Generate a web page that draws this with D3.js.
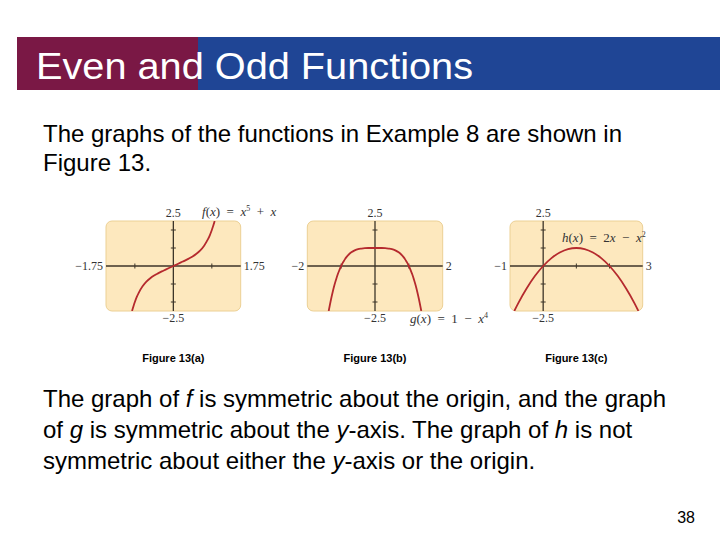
<!DOCTYPE html>
<html><head><meta charset="utf-8">
<script src="https://cdn.jsdelivr.net/npm/d3@7"></script>
<style>body{margin:0;background:#fff}svg{display:block}</style>
</head><body>
<svg id="c" width="720" height="540"></svg>
<script>
// ---- data ----
const fX = [-1.074,-1.03,-1.0,-0.95,-0.9,-0.8,-0.7,-0.6,-0.5,-0.4,-0.3,-0.2,-0.1,0,0.1,0.2,0.3,0.4,0.5,0.6,0.7,0.8,0.9,0.95,1.0,1.03,1.074];
const fY = [-2.50,-2.19,-2.0,-1.72,-1.49,-1.13,-0.87,-0.68,-0.53,-0.41,-0.30,-0.20,-0.10,0,0.10,0.20,0.30,0.41,0.53,0.68,0.87,1.13,1.49,1.72,2.0,2.19,2.50];
const gX = [-1.368,-1.3,-1.25,-1.2,-1.15,-1.1,-1.05,-1.0,-0.95,-0.9,-0.85,-0.8,-0.7,-0.6,-0.5,-0.4,-0.3,-0.2,-0.1,0,0.1,0.2,0.3,0.4,0.5,0.6,0.7,0.8,0.85,0.9,0.95,1.0,1.05,1.1,1.15,1.2,1.25,1.3,1.368];
const gY = [-2.50,-1.86,-1.44,-1.07,-0.75,-0.46,-0.22,0,0.19,0.34,0.48,0.59,0.76,0.87,0.94,0.97,0.99,1.0,1.0,1.0,1.0,1.0,0.99,0.97,0.94,0.87,0.76,0.59,0.48,0.34,0.19,0,-0.22,-0.46,-0.75,-1.07,-1.44,-1.86,-2.50];
const hX = [-0.87,-0.75,-0.5,-0.25,0,0.25,0.5,0.75,1,1.25,1.5,1.75,2,2.25,2.5,2.75,2.87];
const hY = [-2.50,-2.06,-1.25,-0.56,0,0.44,0.75,0.94,1,0.94,0.75,0.44,0,-0.56,-1.25,-2.06,-2.50];

const panels = [
  {id:"a", x:fX, y:fY, xDom:[-1.75,1.75], yDom:[-2.5,2.5], xTicks:[-1,1], yTicks:[-2,-1,1,2],
   xLabels:["\u22121.75","1.75"], yLabels:["2.5","\u22122.5"], caption:"Figure 13(a)"},
  {id:"b", x:gX, y:gY, xDom:[-2,2], yDom:[-2.5,2.5], xTicks:[-1,1], yTicks:[-2,-1,1,2],
   xLabels:["\u22122","2"], yLabels:["2.5","\u22122.5"], caption:"Figure 13(b)"},
  {id:"c", x:hX, y:hY, xDom:[-1,3], yDom:[-2.5,2.5], xTicks:[1,2], yTicks:[-2,-1,1,2],
   xLabels:["\u22121","3"], yLabels:["2.5","\u22122.5"], caption:"Figure 13(c)"}
];
const boxes = [[106,240.7],[307.3,442.7],[510,642.7]];
const boxTop = 221, boxBot = 311;

const svg = d3.select("#c");
// title bar
svg.append("rect").attr("x",198).attr("y",37).attr("width",522).attr("height",53).attr("fill","#1f4595");
svg.append("rect").attr("x",17).attr("y",37).attr("width",181).attr("height",53).attr("fill","#7a1845");
svg.append("text").attr("x",36).attr("y",79).attr("fill","#fff")
  .attr("font-family","Liberation Sans, Arial, sans-serif").attr("font-size",37)
  .attr("textLength",437).attr("lengthAdjust","spacingAndGlyphs").text("Even and Odd Functions");

const bodyFont = "Liberation Sans, Arial, sans-serif";
function para(lines, y0, dy){
  lines.forEach((segs,i)=>{
    const t = svg.append("text").attr("x",43).attr("y",y0+i*dy).attr("font-family",bodyFont).attr("font-size",24).attr("fill","#000");
    segs.forEach(s=>{ const ts=t.append("tspan").text(s[0]); if(s[1]) ts.attr("font-style","italic"); });
  });
}
para([[["The graphs of the functions in Example 8 are shown in"]],[["Figure 13."]]],141.5,29.5);
para([
  [["The graph of "],["f",1],[" is symmetric about the origin, and the graph"]],
  [["of "],["g",1],[" is symmetric about the "],["y",1],["-axis. The graph of "],["h",1],[" is not"]],
  [["symmetric about either the "],["y",1],["-axis or the origin."]]
],406.5,31);

svg.append("text").attr("x",695).attr("y",523).attr("text-anchor","end").attr("font-family",bodyFont).attr("font-size",16).text("38");

const serif = "Liberation Serif, Times New Roman, serif";
const axisCol = "#3d3529";
panels.forEach((p,i)=>{
  const [x0,x1] = boxes[i];
  const xs = d3.scaleLinear().domain(p.xDom).range([x0,x1]);
  const ys = d3.scaleLinear().domain(p.yDom).range([boxBot,boxTop]);
  const g = svg.append("g");
  g.append("rect").attr("x",x0).attr("y",boxTop).attr("width",x1-x0).attr("height",boxBot-boxTop)
    .attr("rx",6).attr("fill","#fde8be").attr("stroke","#ecd094").attr("stroke-width",1);
  const cx = xs(0), cy = ys(0);
  g.append("line").attr("x1",x0).attr("x2",x1).attr("y1",cy).attr("y2",cy).attr("stroke",axisCol).attr("stroke-width",1.3);
  g.append("line").attr("x1",cx).attr("x2",cx).attr("y1",boxTop).attr("y2",boxBot).attr("stroke",axisCol).attr("stroke-width",1.3);
  g.selectAll(".xt").data(p.xTicks).enter().append("line")
    .attr("x1",d=>xs(d)).attr("x2",d=>xs(d)).attr("y1",cy-2.5).attr("y2",cy+2.5).attr("stroke",axisCol).attr("stroke-width",1);
  g.selectAll(".yt").data(p.yTicks).enter().append("line")
    .attr("y1",d=>ys(d)).attr("y2",d=>ys(d)).attr("x1",cx-2.5).attr("x2",cx+2.5).attr("stroke",axisCol).attr("stroke-width",1);
  svg.append("clipPath").attr("id","clip"+p.id).append("rect").attr("x",x0).attr("y",boxTop).attr("width",x1-x0).attr("height",boxBot-boxTop);
  const pts = p.x.map((v,k)=>[v,p.y[k]]);
  g.append("path").datum(pts).attr("clip-path","url(#clip"+p.id+")")
    .attr("d",d3.line().x(d=>xs(d[0])).y(d=>ys(d[1])).curve(d3.curveCatmullRom))
    .attr("fill","none").attr("stroke","#b52a2e").attr("stroke-width",1.8);
  const lab = (x,y,txt,anchor)=>g.append("text").attr("x",x).attr("y",y).attr("text-anchor",anchor)
      .attr("font-family",serif).attr("font-size",12).attr("fill","#333").text(txt);
  lab(cx,217,p.yLabels[0],"middle");
  lab(cx,322,p.yLabels[1],"middle");
  lab(x0-3,270,p.xLabels[0],"end");
  lab(x1+3,270,p.xLabels[1],"start");
  svg.append("text").attr("x",(x0+x1)/2).attr("y",362).attr("text-anchor","middle")
    .attr("font-family",bodyFont).attr("font-size",11).attr("font-weight","bold").attr("fill","#000").text(p.caption);
});

// function labels
function fnLabel(x,y,parts){
  const t = svg.append("text").attr("x",x).attr("y",y).attr("font-family",serif).attr("font-size",13).attr("fill","#333")
    .style("white-space","pre");
  parts.forEach(s=>{
    const ts = t.append("tspan").text(s[0]);
    if(s[1]==="i") ts.attr("font-style","italic");
    if(s[1]==="s") ts.attr("font-size",8).attr("dy",-5);
    if(s[2]==="d") ts.attr("dy",5);
  });
}
const S = "\u00a0";
fnLabel(202,215.5,[["f","i"],["("],["x","i"],[")"+S+S+"="+S+S],["x","i"],["5","s"],[S+S+"+"+S+S,"","d"],["x","i"]]);
fnLabel(410,323,[["g","i"],["("],["x","i"],[")"+S+S+"="+S+S+"1"+S+S+"\u2212"+S+S],["x","i"],["4","s"]]);
fnLabel(562,241.5,[["h","i"],["("],["x","i"],[")"+S+S+"="+S+S+"2"],["x","i"],[S+S+"\u2212"+S+S],["x","i"],["2","s"]]);
</script>
</body></html>
